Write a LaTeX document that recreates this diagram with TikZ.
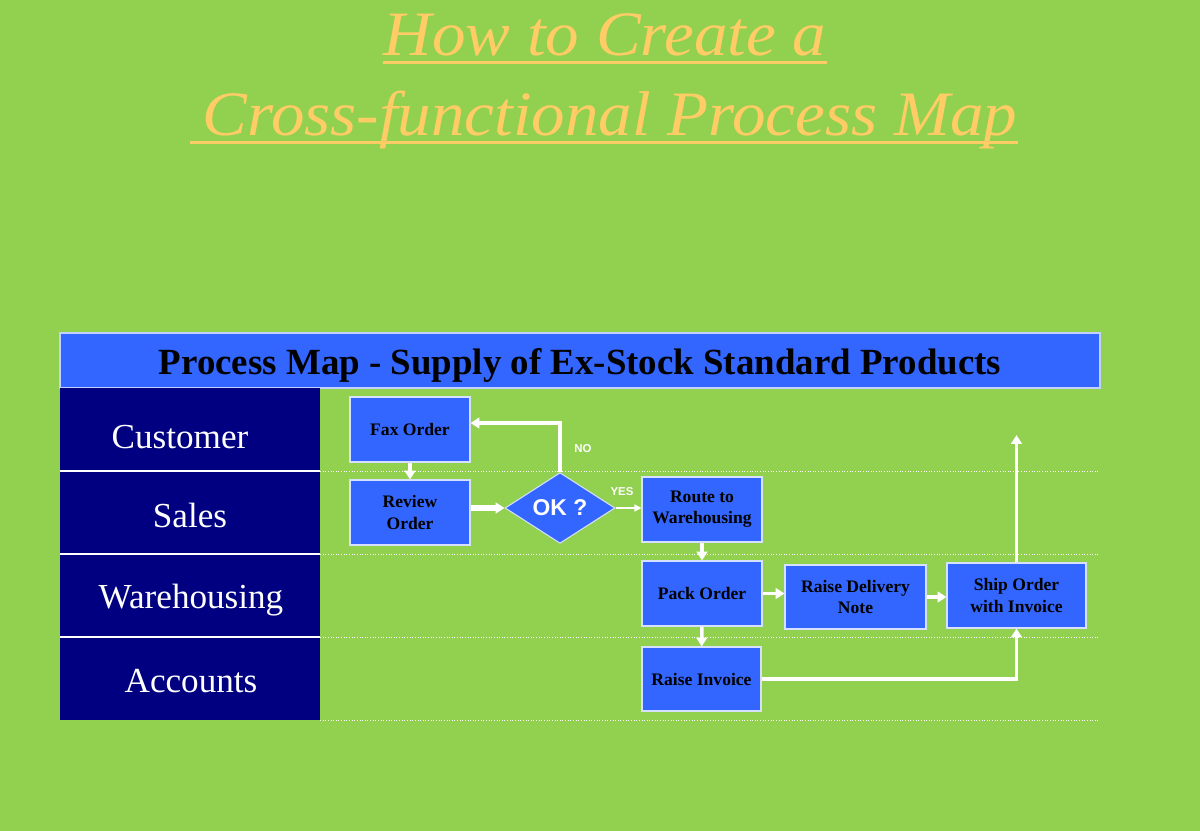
\documentclass[tikz,border=0pt]{standalone}
\usepackage{fontspec}
\setmainfont{Liberation Serif}
\setsansfont{Liberation Sans}
\newfontfamily\titlefont[FakeStretch=1.06]{Liberation Serif}
\usetikzlibrary{shapes.geometric, arrows.meta}
\definecolor{bggreen}{RGB}{146,208,80}
\definecolor{boxblue}{RGB}{51,102,255}
\definecolor{lanenavy}{RGB}{0,0,128}
\definecolor{titleorange}{RGB}{255,204,102}
\tikzset{
  procbox/.style={draw=white!80!boxblue, line width=0.6pt, fill=boxblue, minimum width=2.4cm, minimum height=1.3cm, align=center, inner sep=1pt, font=\bfseries\fontsize{10}{12}\selectfont},
  lanetext/.style={text=white, anchor=base, font=\fontsize{20}{24}\selectfont},
  titletext/.style={anchor=base, inner sep=0, text=titleorange, font=\titlefont\itshape\fontsize{36}{36}\selectfont},
  flow/.style={draw=white, line width=2pt, -{Triangle[length=5pt,width=6pt]}},
  lanesep/.style={white, densely dotted, line width=0.5pt},
  flagtext/.style={text=white, font=\sffamily\bfseries\fontsize{6.5}{6.5}\selectfont}
}
\begin{document}
\begin{tikzpicture}[x=0.02cm, y=-0.02cm]
\useasboundingbox[fill=bggreen] (0,0) rectangle (1200,831);
% title
\node[titletext] (title1) at (605,56) {How to Create a};
\node[titletext] (title2) at (610,136) {Cross-functional Process Map};
\draw[titleorange, line width=1.7pt] ([yshift=-3.5pt]title1.base west) -- ([yshift=-3.5pt]title1.base east);
\draw[titleorange, line width=1.7pt] ([xshift=-0.24cm, yshift=-3.5pt]title2.base west) -- ([yshift=-3.5pt]title2.base east);
% header bar
\draw[fill=boxblue, draw=white!70!boxblue, line width=0.6pt] (60,333) rectangle (1100,388);
\node[anchor=base, font=\bfseries\fontsize{21}{24}\selectfont] (header) at (580,374) {Process Map - Supply of Ex-Stock Standard Products};
% lanes
\fill[lanenavy] (60,388) rectangle (320,720);
\foreach \y in {471,554,637} \draw[white, line width=0.6pt] (60,\y) -- (320,\y);
\foreach \y in {471,554,637,720} \draw[lanesep] (320,\y) -- (1100,\y);
\foreach \name/\lx/\ly in {Customer/180/448, Sales/190/527, Warehousing/191/608, Accounts/191/692}
  \node[lanetext] (lane\name) at (\lx,\ly) {\name};
% process steps
\node[procbox] (fax) at (410,429.5) {Fax Order};
\node[procbox] (review) at (410,512.5) {Review\\Order};
\node[diamond, draw=white!80!boxblue, line width=0.6pt, fill=boxblue, minimum width=2.2cm, minimum height=1.32cm, inner sep=0, text=white, font=\sffamily\bfseries\fontsize{13}{13}\selectfont] (ok) at (560,508) {OK ?};
\node[procbox] (route) at (702,509.5) {Route to\\Warehousing};
\node[procbox] (pack) at (702,593.5) {Pack Order};
\node[procbox, minimum width=2.82cm, minimum height=1.28cm] (delivery) at (855.5,597) {Raise Delivery\\Note};
\node[procbox, minimum width=2.78cm] (ship) at (1016.5,595.5) {Ship Order\\with Invoice};
\node[procbox, minimum width=2.38cm, minimum height=1.28cm] (invoice) at (701.5,679) {Raise Invoice};
\coordinate (shipout) at (1016.5,435);
% connectors
\draw[flow] (fax) -- (review);
\draw[flow, line width=3pt] (review.east |- ok.west) -- (ok.west);
\draw[flow] (ok.north) |- ([yshift=0.13cm]fax.east);
\draw[flow, line width=0.8pt, -{Triangle[length=4pt,width=4pt]}] (ok.east) -- (ok.east -| route.west);
\draw[flow] (route) -- (pack);
\draw[flow] (pack.east) -- (pack.east -| delivery.west);
\draw[flow] (delivery.east) -- (delivery.east -| ship.west);
\draw[flow] (pack) -- (invoice);
\draw[flow] (invoice.east) -| (ship.south);
\draw[flow] (ship.north) -- (shipout);
\node[flagtext] (yes) at (622,492) {YES};
\node[flagtext] (no) at (583,449) {NO};
\end{tikzpicture}
\end{document}
